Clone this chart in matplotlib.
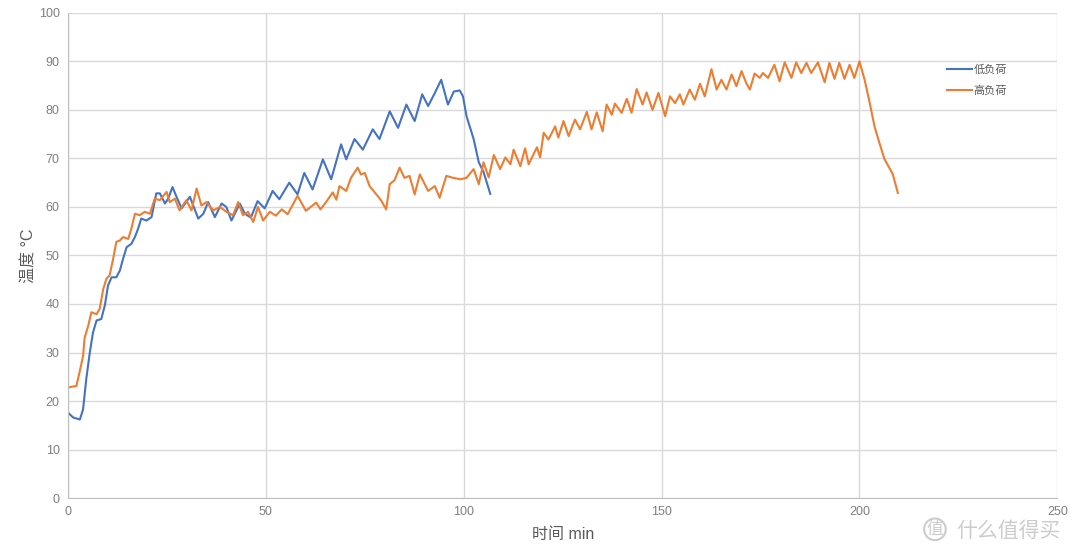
import matplotlib.pyplot as plt

plt.rcParams['font.family'] = ['Liberation Sans', 'Noto Sans CJK SC', 'DejaVu Sans']

# 低负荷 (blue)
t_low = [0, 1.3, 3, 3.8, 4.6, 5.5, 6.3, 7.2, 8.4, 9.3, 10.1, 11, 12.2, 13.1, 13.9, 14.8,
         16, 16.9, 17.7, 18.5, 19.8, 21.1, 22.3, 23.2, 24.5, 25.3, 26.4, 27.4, 28.7, 30.8,
         32.9, 34.2, 35.4, 37.1, 38.8, 40, 41.3, 43.4, 44.7, 46.2, 47.9, 49.7, 51.7, 53.4,
         55.9, 58, 59.7, 61.8, 64.4, 66.5, 69, 70.3, 72.4, 74.5, 77, 78.7, 81.3, 83.4, 85.5,
         87.6, 89.5, 91, 92.7, 94.3, 96, 97.5, 99, 99.8, 100.7, 102.5, 103.8, 105, 106.7]
v_low = [17.6, 16.6, 16.2, 18.3, 24.5, 30, 34.1, 36.6, 36.9, 39.7, 43.8, 45.5, 45.5, 46.9,
         49.3, 51.7, 52.4, 53.8, 55.5, 57.6, 57.2, 57.9, 62.8, 62.8, 60.7, 61.7, 64.1, 62.1,
         59.7, 62.1, 57.6, 58.6, 61, 57.9, 60.7, 60, 57.2, 60.7, 58.6, 57.8, 61.2, 59.7, 63.3,
         61.6, 65, 62.6, 67, 63.6, 69.8, 65.7, 72.9, 69.8, 74, 71.8, 76, 74, 79.7, 76.3, 81.1,
         77.7, 83.2, 80.8, 83.5, 86.2, 81.1, 83.8, 84, 82.8, 78.7, 74, 69.2, 67.2, 62.7]

# 高负荷 (orange)
t_high = [0, 2.1, 2.9, 3.8, 4.2, 5.1, 5.9, 7.2, 8, 8.9, 9.7, 10.5, 11.4, 12.2, 13.1, 13.9,
          15.2, 16, 16.9, 18.1, 19.4, 20.7, 21.9, 23.2, 24.9, 25.7, 27, 28.2, 29.9, 31.2,
          32.5, 33.7, 35, 36.7, 38.4, 40, 41.7, 43, 44.2, 45.5, 46.8, 48, 49.3, 51, 52.5,
          54, 55.5, 58, 60.1, 62.7, 63.8, 65.2, 66.9, 67.8, 68.6, 70.3, 71.5, 73.2, 74, 75,
          76.2, 77.9, 79, 80.4, 81.3, 82.5, 83.8, 85, 86.3, 87.6, 88.9, 91, 92.7, 93.9, 95.6,
          97.3, 99.2, 100.7, 102.5, 103.8, 105, 106.3, 107.6, 109.2, 110.5, 111.8, 112.6,
          114.3, 115.5, 116.4, 118.5, 119.3, 120.2, 121.4, 123.1, 123.9, 125.2, 126.5, 128.1,
          129.4, 131.1, 132.3, 133.6, 135.1, 136.1, 137.4, 138.2, 139.9, 141.2, 142.4, 143.7,
          145.2, 146.2, 147.7, 149.2, 150.9, 152.1, 153.4, 154.6, 155.5, 157.1, 158.4, 159.7,
          160.9, 162.6, 163.9, 165.1, 166.4, 167.7, 168.9, 170.2, 171.4, 172.3, 173.5, 174.8,
          175.6, 176.9, 178.5, 179.8, 181.1, 182.8, 184, 185.3, 186.6, 187.8, 189.5, 191.2,
          192.4, 193.7, 194.9, 196.2, 197.5, 198.7, 200, 201.3, 202.5, 203.8, 205, 206.3,
          208.4, 209.7]
v_high = [22.8, 23.1, 25.9, 29.3, 33.1, 35.5, 38.3, 37.9, 39, 43.1, 45.2, 45.9, 49.3, 52.8,
          53.1, 53.8, 53.4, 55.5, 58.6, 58.3, 59, 58.6, 61.7, 61.4, 63.1, 61, 61.7, 59.3, 61.4,
          59.3, 63.8, 60.3, 61, 59.3, 60, 59, 58.3, 61, 58.3, 59, 56.9, 60, 57.2, 59, 58.2,
          59.5, 58.5, 62.3, 59.2, 60.9, 59.5, 61, 63, 61.5, 64.3, 63.3, 66, 68.1, 66.7, 67,
          64.3, 62.6, 61.5, 59.5, 64.7, 65.5, 68.1, 66, 66.4, 62.6, 66.7, 63.3, 64.3, 61.9, 66.4,
          66, 65.7, 66, 67.8, 64.7, 69.2, 66.1, 70.7, 67.8, 70.2, 68.8, 71.8,
          68.4, 72.1, 68.8, 72.3, 70.2, 75.3, 73.9, 76.6, 74.3, 77.7, 74.6, 78,
          76, 79.6, 76, 79.5, 75.6, 81.1, 79, 81.3, 79.4, 82.3, 79.4, 84.3,
          81.1, 83.6, 80, 83.5, 78.7, 82.8, 81.4, 83.2, 81.1, 84.2, 82.1, 85.4,
          82.8, 88.4, 84.2, 86.2, 84.2, 87.3, 84.9, 88, 85.5, 84.2, 87.5, 86.6,
          87.6, 86.6, 89.3, 85.9, 89.8, 86.6, 89.8, 87.6, 89.7, 87.6, 89.8, 85.7,
          89.7, 86.4, 89.7, 86.4, 89.3, 86.6, 90, 86.2, 81.8, 76.6, 73.3, 69.9,
          66.8, 62.9]

x_ticks = [0, 50, 100, 150, 200, 250]
y_ticks = [0, 10, 20, 30, 40, 50, 60, 70, 80, 90, 100]

fig = plt.figure(figsize=(10.8, 5.59), dpi=100)
ax = fig.add_axes([0.063, 0.109, 0.916, 0.868])

ax.plot(t_low, v_low, color='#4472C4', lw=1.5, label='低负荷')
ax.plot(t_high, v_high, color='#ED7D31', lw=1.5, label='高负荷')

ax.set_xlim(0, 250)
ax.set_ylim(0, 100)
ax.set_xticks(x_ticks)
ax.set_yticks(y_ticks)
ax.grid(True, color='#d9d9d9', lw=1)
ax.set_axisbelow(True)
for s in ['top', 'right']:
    ax.spines[s].set_visible(False)
for s in ['left', 'bottom']:
    ax.spines[s].set_color('#bfbfbf')
ax.tick_params(length=0, labelsize=9, labelcolor='#7f7f7f', pad=6)

ax.set_xlabel('时间 min', fontsize=11.5, color='#595959', labelpad=6)
ax.set_ylabel('温度 °C', fontsize=11.5, color='#595959', labelpad=1.5)

ax.legend(loc='upper left', bbox_to_anchor=(0.878, 0.915), frameon=False,
          fontsize=8, labelcolor='#595959', handlelength=2.3, handletextpad=0.15,
          labelspacing=0.95)

# watermark
fig.text(0.858, 0.045, '值', fontsize=12, color='#cccccc',
         bbox=dict(boxstyle='circle,pad=0.15', fc='none', ec='#cccccc', lw=1.5))
fig.text(0.885, 0.04, '什么值得买', fontsize=15, color='#cccccc')

fig.savefig('out.png', dpi=100)
